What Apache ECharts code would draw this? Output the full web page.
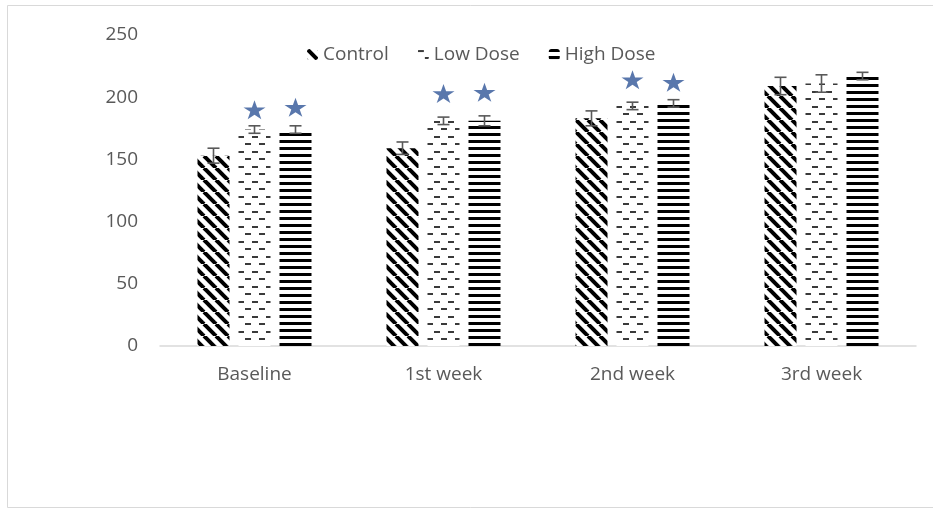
<!DOCTYPE html>
<html>
<head>
<meta charset="utf-8">
<script src="https://cdn.jsdelivr.net/npm/echarts@6/dist/echarts.min.js"></script>
<style>
  html, body { margin: 0; padding: 0; background: #fff; }
  #chart { width: 933px; height: 510px; }
</style>
</head>
<body>
<div id="chart"></div>
<script>
// data
const categories = ['Baseline', '1st week', '2nd week', '3rd week'];
const groupNames = ['Control', 'Low Dose', 'High Dose'];
const controlMean = [153, 159, 183, 209];
const controlErr = [6, 5, 6, 7];
const lowMean = [174, 181, 193, 211];
const lowErr = [3, 3, 3, 7];
const highMean = [174, 181, 195, 217];
const highErr = [3, 4, 3, 3];
// star markers (significance), null = none
const lowStar = [190, 203, 214, null];
const highStar = [192, 204, 212, null];
const yTicks = { min: 0, max: 250, interval: 50 };

const BAR_W = 32;
const STEP = 41; // centre to centre of bars inside a category
const offsets = [-STEP, 0, STEP];

// hatch patterns
function makeTile(w, h, draw) {
  const c = document.createElement('canvas');
  c.width = w; c.height = h;
  const ctx = c.getContext('2d');
  ctx.fillStyle = '#fff';
  ctx.fillRect(0, 0, w, h);
  draw(ctx);
  return { image: c, repeat: 'repeat' };
}

const diagPattern = makeTile(12, 12, ctx => {
  ctx.strokeStyle = '#000';
  ctx.lineWidth = 4;
  for (const d of [-12, 0, 12]) {
    ctx.beginPath();
    ctx.moveTo(d, 0);
    ctx.lineTo(d + 12, 12);
    ctx.stroke();
  }
});

const dashPattern = makeTile(14, 15, ctx => {
  ctx.fillStyle = '#3a3a3a';
  ctx.fillRect(0, 1, 6, 2);
  ctx.fillRect(7, 8, 6, 2);
});

const stripePattern = makeTile(8, 7, ctx => {
  ctx.fillStyle = '#000';
  ctx.fillRect(0, 0, 8, 3);
});

const patterns = [diagPattern, dashPattern, stripePattern];
const means = [controlMean, lowMean, highMean];
const errs = [controlErr, lowErr, highErr];

const chart = echarts.init(document.getElementById('chart'), null, { renderer: 'canvas' });

const barSeries = groupNames.map((name, g) => ({
  name,
  type: 'bar',
  data: means[g],
  barWidth: BAR_W,
  barGap: ((STEP - BAR_W) / BAR_W * 100) + '%',
  itemStyle: { color: patterns[g] },
  emphasis: { disabled: true },
}));

// error bars drawn with a custom series
const errData = [];
for (let g = 0; g < 3; g++) {
  for (let i = 0; i < categories.length; i++) {
    errData.push([i, means[g][i], errs[g][i], g]);
  }
}

const errSeries = {
  type: 'custom',
  name: 'err',
  data: errData,
  z: 5,
  silent: true,
  encode: { x: 0, y: 1 },
  renderItem: (params, api) => {
    const i = api.value(0), m = api.value(1), e = api.value(2), g = api.value(3);
    const hi = api.coord([i, m + e]);
    const lo = api.coord([i, m - e]);
    const x = hi[0] + offsets[g];
    const cap = 6;
    const style = { stroke: '#595959', lineWidth: 1.6 };
    return {
      type: 'group',
      children: [
        { type: 'line', shape: { x1: x, y1: hi[1], x2: x, y2: lo[1] }, style },
        { type: 'line', shape: { x1: x - cap, y1: hi[1], x2: x + cap, y2: hi[1] }, style },
        { type: 'line', shape: { x1: x - cap, y1: lo[1], x2: x + cap, y2: lo[1] }, style },
      ],
    };
  },
};

const starPath = 'path://M50,0 L61.8,35.5 L100,35.5 L69.1,57.4 L80.9,93 L50,71 L19.1,93 L30.9,57.4 L0,35.5 L38.2,35.5 Z';
const starSeries = [[lowStar, 1], [highStar, 2]].map(([arr, g]) => ({
  type: 'scatter',
  name: 'star' + g,
  data: arr.map((v, i) => v == null ? null : [i, v]).filter(Boolean),
  symbol: starPath,
  symbolSize: [22, 19],
  symbolOffset: [offsets[g], 0],
  itemStyle: { color: '#2f5597' },
  silent: true,
  z: 6,
}));

const font = 'Open Sans';

chart.setOption({
  animation: false,
  backgroundColor: '#fff',
  graphic: [{
    type: 'rect',
    shape: { x: 7.5, y: 5.5, width: 940, height: 502 },
    style: { fill: 'none', stroke: '#d9d9d9', lineWidth: 1 },
    silent: true,
  }],
  legend: {
    data: groupNames,
    left: 302,
    top: 40,
    itemWidth: 11,
    itemHeight: 11,
    itemGap: 29,
    textStyle: { color: '#595959', fontSize: 19, fontFamily: font },
  },
  grid: { left: 160, right: 17, top: 35, bottom: 164 },
  xAxis: {
    type: 'category',
    data: categories,
    axisLine: { lineStyle: { color: '#d9d9d9', width: 1.5 } },
    axisTick: { show: false },
    axisLabel: { color: '#595959', fontSize: 19, fontFamily: font, margin: 19 },
  },
  yAxis: {
    type: 'value',
    min: yTicks.min,
    max: yTicks.max,
    interval: yTicks.interval,
    axisLine: { show: false },
    axisTick: { show: false },
    splitLine: { show: false },
    axisLabel: { color: '#595959', fontSize: 19, fontFamily: font, margin: 22 },
  },
  series: [...barSeries, errSeries, ...starSeries],
});
</script>
</body>
</html>
